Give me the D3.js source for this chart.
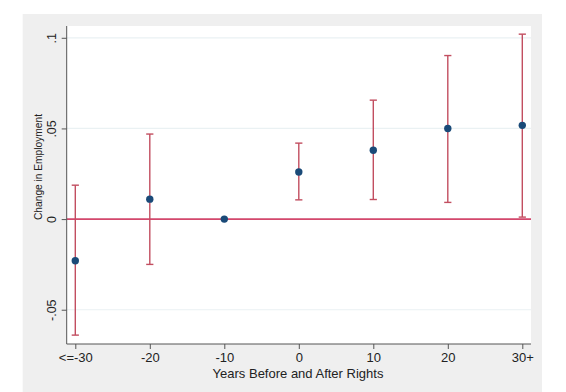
<!DOCTYPE html>
<html>
<head>
<meta charset="utf-8">
<script src="https://cdn.jsdelivr.net/npm/d3@7"></script>
<style>
html,body{margin:0;padding:0;background:#fff;}
text{font-family:"Liberation Sans",Arial,sans-serif;fill:#222;}
</style>
</head>
<body>
<svg id="chart" width="566" height="392"></svg>
<script>
// Data
const years = [-30, -20, -10, 0, 10, 20, 30];
const xTickLabels = ["<=-30", "-20", "-10", "0", "10", "20", "30+"];
const estimate = [-0.023, 0.011, 0.0, 0.026, 0.038, 0.050, 0.0517];
const ciLow  = [-0.064, -0.025, null, 0.0106, 0.0108, 0.0092, 0.0011];
const ciHigh = [0.0187, 0.0469, null, 0.0419, 0.0656, 0.0902, 0.102];
const yTickValues = [-0.05, 0, 0.05, 0.1];
const yTickLabels = ["-.05", "0", ".05", ".1"];

const svg = d3.select("#chart");
const W = 566, H = 392;
const plot = {left: 66.7, right: 531, top: 26, bottom: 344};
const FONT = '"Liberation Sans",Arial,sans-serif';

// graph region background
svg.append("rect").attr("x", 22.7).attr("y", 14).attr("width", 542 - 22.7).attr("height", H - 14).attr("fill", "#efefef");
svg.append("rect").attr("x", plot.left).attr("y", plot.top).attr("width", plot.right - plot.left).attr("height", plot.bottom - plot.top).attr("fill", "#fff");

const x = d3.scaleLinear().domain([-30, 30]).range([75.3, 522.3]);
const y = d3.scaleLinear().domain([-0.0689, 0.1065]).range([plot.bottom, plot.top]);

// gridlines
svg.append("g").selectAll("line").data(yTickValues).join("line")
  .attr("x1", plot.left).attr("x2", plot.right)
  .attr("y1", d => y(d)).attr("y2", d => y(d))
  .attr("stroke", "#eaf1f3").attr("stroke-width", 1.2);

// zero line
svg.append("line").attr("x1", plot.left).attr("x2", plot.right)
  .attr("y1", y(0)).attr("y2", y(0))
  .attr("stroke", "#d4486c").attr("stroke-width", 1.6);

// axes
const yAxis = d3.axisLeft(y).tickValues(yTickValues).tickFormat((d, i) => yTickLabels[i]).tickSize(5).tickSizeOuter(0);
const gy = svg.append("g").attr("transform", `translate(${plot.left},0)`).call(yAxis);
gy.select(".domain").attr("stroke", "#555").attr("d", `M0,${plot.top}V${plot.bottom}`);
gy.selectAll(".tick line").attr("stroke", "#555");
gy.selectAll(".tick text")
  .attr("transform", "rotate(-90)")
  .attr("x", 0).attr("y", -10.5).attr("dy", 0)
  .attr("text-anchor", "middle")
  .style("font-size", "12.5px").style("font-family", FONT).attr("fill", "#222");

const xAxis = d3.axisBottom(x).tickValues(years).tickFormat((d, i) => xTickLabels[i]).tickSize(5).tickSizeOuter(0);
const gx = svg.append("g").attr("transform", `translate(0,${plot.bottom})`).call(xAxis);
gx.select(".domain").attr("stroke", "#555").attr("d", `M${plot.left},0H${plot.right}`);
gx.selectAll(".tick line").attr("stroke", "#555");
gx.selectAll(".tick text").attr("y", 18).attr("dy", 0)
  .style("font-size", "13px").style("font-family", FONT).attr("fill", "#222");

// error bars
const data = years.map((yr, i) => ({yr, est: estimate[i], lo: ciLow[i], hi: ciHigh[i]}));
const ci = data.filter(d => d.lo !== null);
const cap = 3.6;
const eb = svg.append("g").attr("stroke", "#c24e60").attr("stroke-width", 1.4).attr("fill", "none");
eb.selectAll(".v").data(ci).join("line")
  .attr("x1", d => x(d.yr)).attr("x2", d => x(d.yr))
  .attr("y1", d => y(d.lo)).attr("y2", d => y(d.hi));
eb.selectAll(".t").data(ci).join("line")
  .attr("x1", d => x(d.yr) - cap).attr("x2", d => x(d.yr) + cap)
  .attr("y1", d => y(d.hi)).attr("y2", d => y(d.hi));
eb.selectAll(".b").data(ci).join("line")
  .attr("x1", d => x(d.yr) - cap).attr("x2", d => x(d.yr) + cap)
  .attr("y1", d => y(d.lo)).attr("y2", d => y(d.lo));

// points
svg.append("g").selectAll("circle").data(data).join("circle")
  .attr("cx", d => x(d.yr)).attr("cy", d => y(d.est)).attr("r", 3.7)
  .attr("fill", "#1a4a78");

// axis titles
svg.append("text").attr("x", 298).attr("y", 378).attr("text-anchor", "middle")
  .style("font-size", "13px").text("Years Before and After Rights");
svg.append("text").attr("transform", "translate(42,167) rotate(-90)").attr("text-anchor", "middle")
  .attr("textLength", 106).attr("lengthAdjust", "spacingAndGlyphs")
  .style("font-size", "11.5px").text("Change in Employment");
</script>
</body>
</html>
